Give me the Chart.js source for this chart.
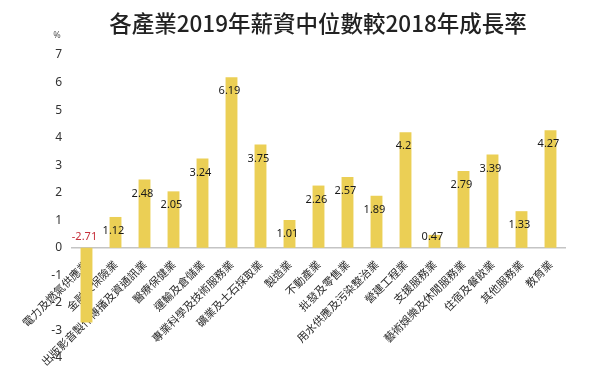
<!DOCTYPE html>
<html>
<head>
<meta charset="utf-8">
<script src="https://cdn.jsdelivr.net/npm/chart.js@4.4.1/dist/chart.umd.min.js"></script>
<style>
  html, body { margin: 0; padding: 0; background: #fff; }
  #wrap { width: 600px; height: 380px; position: relative; }
</style>
</head>
<body>
<div id="wrap"><canvas id="chart"></canvas></div>
<script>
// 各產業 2019 年薪資中位數較 2018 年成長率 (%)
const industries = [
    '電力及燃氣供應業', '金融及保險業', '出版影音製作傳播及資通訊業', '醫療保健業',
    '運輸及倉儲業', '專業科學及技術服務業', '礦業及土石採取業', '製造業',
    '不動產業', '批發及零售業', '用水供應及污染整治業', '營建工程業',
    '支援服務業', '藝術娛樂及休閒服務業', '住宿及餐飲業', '其他服務業', '教育業'
];
const growth = [-2.71, 1.12, 2.48, 2.05, 3.24, 6.19, 3.75, 1.01, 2.26, 2.57, 1.89, 4.2, 0.47, 2.79, 3.39, 1.33, 4.27];
const yTicks = [-4, -3, -2, -1, 0, 1, 2, 3, 4, 5, 6, 7];

const titleText = '各產業2019年薪資中位數較2018年成長率';

// title, unit and value labels
const annotate = {
    id: 'annotate',
    afterDatasetsDraw(chart) {
        const ctx = chart.ctx;
        const y0 = chart.scales.y.getPixelForValue(0);
        const meta = chart.getDatasetMeta(0);

        ctx.save();
        ctx.textAlign = 'center';
        ctx.textBaseline = 'middle';
        ctx.font = '11px "Noto Sans", sans-serif';
        meta.data.forEach((bar, i) => {
            const v = growth[i];
            let y = v < 0 ? y0 - 11 : Math.min(bar.y + 14, y0 - 11);
            ctx.fillStyle = v < 0 ? '#c62f3a' : '#1a1a1a';
            ctx.fillText(String(v), bar.x - 2, y);
        });

        ctx.fillStyle = '#222';
        ctx.font = '500 22.5px "Noto Sans CJK TC", sans-serif';
        ctx.fillText(titleText, 318, 23);

        ctx.fillStyle = '#555';
        ctx.font = '9px "Noto Sans", sans-serif';
        ctx.fillText('%', 57, 35);
        ctx.restore();
    }
};

new Chart(document.getElementById('chart'), {
    type: 'bar',
    data: {
        labels: industries,
        datasets: [{
            data: growth,
            backgroundColor: '#ebcf55',
            borderWidth: 0,
            barPercentage: 0.41,
            categoryPercentage: 1
        }]
    },
    options: {
        responsive: true,
        maintainAspectRatio: false,
        animation: false,
        layout: { padding: { top: 55, right: 35, bottom: 22, left: 0 } },
        plugins: {
            legend: { display: false },
            title: { display: false },
            tooltip: { enabled: false }
        },
        scales: {
            x: {
                position: { y: 0 },
                z: 1,
                grid: { display: false, drawTicks: false },
                border: { display: true, color: '#c4c4c4', width: 1.5 },
                ticks: {
                    color: '#2a2a2a',
                    font: { family: '"Noto Sans CJK TC", sans-serif', size: 11 },
                    minRotation: 45,
                    maxRotation: 45,
                    autoSkip: false,
                    padding: 10
                }
            },
            y: {
                min: -4,
                max: 7,
                afterBuildTicks(scale) {
                    scale.ticks = yTicks.map(v => ({ value: v }));
                },
                afterFit(scale) { scale.width = 72; },
                grid: { display: false, drawTicks: false },
                border: { display: false },
                ticks: {
                    color: '#333',
                    font: { family: '"Noto Sans", sans-serif', size: 12 },
                    padding: 10
                }
            }
        }
    },
    plugins: [annotate]
});
</script>
</body>
</html>
